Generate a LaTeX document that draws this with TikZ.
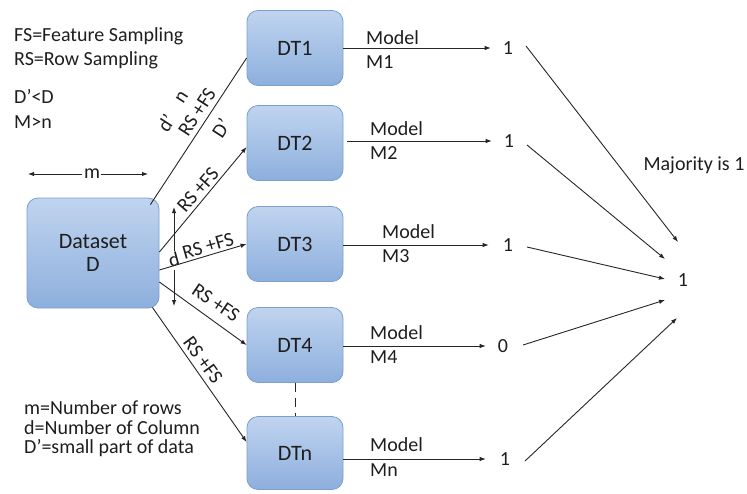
\documentclass[tikz,border=0pt]{standalone}
\usepackage{fontspec}
\setmainfont{Carlito}
\usetikzlibrary{arrows.meta,calc}
\definecolor{boxtop}{HTML}{C0D4EF}
\definecolor{boxbot}{HTML}{8DAFDD}
\definecolor{boxline}{HTML}{7C9FD0}
\definecolor{txt}{HTML}{1E1E1E}
\begin{document}
\begin{tikzpicture}[x=1pt,y=-1pt,
  dtbox/.style={draw=boxline, line width=0.8pt, rounded corners=11pt, top color=boxtop, bottom color=boxbot,
    minimum width=96pt, minimum height=75pt, font=\fontsize{22}{23}\selectfont, text=txt, align=center},
  lbl/.style={font=\fontsize{20}{21}\selectfont, text=txt, inner sep=0pt},
  side/.style={font=\fontsize{20}{21}\selectfont, text=txt, inner sep=0pt, anchor=west},
  conn/.style={line width=0.9pt, draw=black!85},
  arr/.style={conn, -{Latex[length=6pt,width=4.5pt]}},
]
\useasboundingbox (0,0) rectangle (747,493);

% boxes
\node[dtbox] (dt1) at (295,48) {DT1};
\node[dtbox] (dt2) at (295,143) {DT2};
\node[dtbox] (dt3) at (295,244) {DT3};
\node[dtbox] (dt4) at (295,345) {DT4};
\node[dtbox, minimum height=73pt] (dtn) at (295,453) {DTn};
\node[dtbox, minimum width=132pt, minimum height=110pt] (ds) at (93,253) {Dataset\\D};

% legend texts
\node[side] (t1) at (14,36) {FS=Feature Sampling};
\node[side] (t2) at (14,60) {RS=Row Sampling};
\node[side] (t3) at (14,96) {D’<D};
\node[side] (t4) at (14,122) {M>n};
\node[side] (b1) at (24,408) {m=Number of rows};
\node[side] (b2) at (24,428) {d=Number of Column};
\node[side] (b3) at (24,448) {D’=small part of data};

% m arrow
\node[lbl] (m) at (92,174) {m};
\coordinate (mL) at (28,174);
\coordinate (mR) at (148,174);
\draw[arr] ([xshift=-10pt]m.center) -- (mL);
\draw[arr] ([xshift=9pt]m.center) -- (mR);

% d arrow
\node[lbl, rotate=15] (d) at (174,259) {d};
\coordinate (dT) at (174,207);
\coordinate (dB) at (174,306);
\draw[arr] (174,251) -- (dT);
\draw[arr] (174,270) -- (dB);

% connectors from dataset
\draw[conn] ($(ds.north east)+(-9,7)$) -- ($(dt1.west)+(0,10)$);
\draw[arr] ($(ds.east)+(0,-1)$) -- ($(dt2.west)+(0,4)$);
\draw[arr] ($(ds.east)+(0,17)$) -- (dt3.west);
\draw[arr] ($(ds.east)+(0,29)$) -- (dt4.west);
\draw[arr] ($(ds.south east)+(-7,-1)$) -- ($(dtn.west)+(0,-11)$);
\draw[conn, dashed, dash pattern=on 9pt off 6pt] (dt4.south) -- (dtn.north);

% labels on connectors
\node[lbl, rotate=57] (l1a) at (166,123) {d’};
\node[lbl, rotate=57] (l1b) at (182,97) {n};
\node[lbl, rotate=57] (l1c) at (197,112) {RS +FS};
\node[lbl, rotate=57] (l1d) at (221,128) {D’};
\node[lbl, rotate=49] (l2) at (198,190) {RS +FS};
\node[lbl, rotate=16] (l3) at (208,246) {RS +FS};
\node[lbl, rotate=-34] (l4) at (216,303) {RS +FS};
\node[lbl, rotate=-54] (l5) at (203,360) {RS +FS};

% results
\node[lbl] (r1) at (508,48) {1};
\node[lbl] (r2) at (509,141) {1};
\node[lbl] (r3) at (508,245) {1};
\node[lbl] (r4) at (503,346) {0};
\node[lbl] (r5) at (505,459) {1};

\draw[arr, shorten >=12pt] (dt1.east |- r1) -- (r1);
\draw[arr, shorten >=12pt] ([xshift=4pt]dt2.east |- r2) -- (r2);
\draw[arr, shorten >=14pt] (dt3.east |- r3) -- (r3);
\draw[arr, shorten >=12pt] (dt4.east |- r4) -- (r4);
\draw[arr, shorten >=14pt] (dtn.east |- r5) -- (r5);

% model labels
\node[side] (m1a) at (366,38) {Model};
\node[side] (m1b) at (366,62) {M1};
\node[side] (m2a) at (370,129) {Model};
\node[side] (m2b) at (370,153) {M2};
\node[side] (m3a) at (382,232) {Model};
\node[side] (m3b) at (382,256) {M3};
\node[side] (m4a) at (370,333) {Model};
\node[side] (m4b) at (370,357) {M4};
\node[side] (m5a) at (370,445) {Model};
\node[side] (m5b) at (370,470) {Mn};

% final
\node[lbl] (fin) at (683,280) {1};
\node[lbl] (maj) at (694,165) {Majority is 1};
\coordinate (e1) at (678,242);
\coordinate (e2) at (665,259);
\coordinate (e3) at (665,279);
\coordinate (e4) at (665,300);
\coordinate (e5) at (677,318);
\draw[arr] ([xshift=18pt,yshift=2pt]r1.center) -- (e1);
\draw[arr] ([xshift=18pt,yshift=-4pt]r2.center) -- (e2);
\draw[arr] ([xshift=19pt,yshift=-2pt]r3.center) -- (e3);
\draw[arr] ([xshift=20pt,yshift=1pt]r4.center) -- (e4);
\draw[arr] ([xshift=20pt,yshift=-2pt]r5.center) -- (e5);
\end{tikzpicture}
\end{document}
